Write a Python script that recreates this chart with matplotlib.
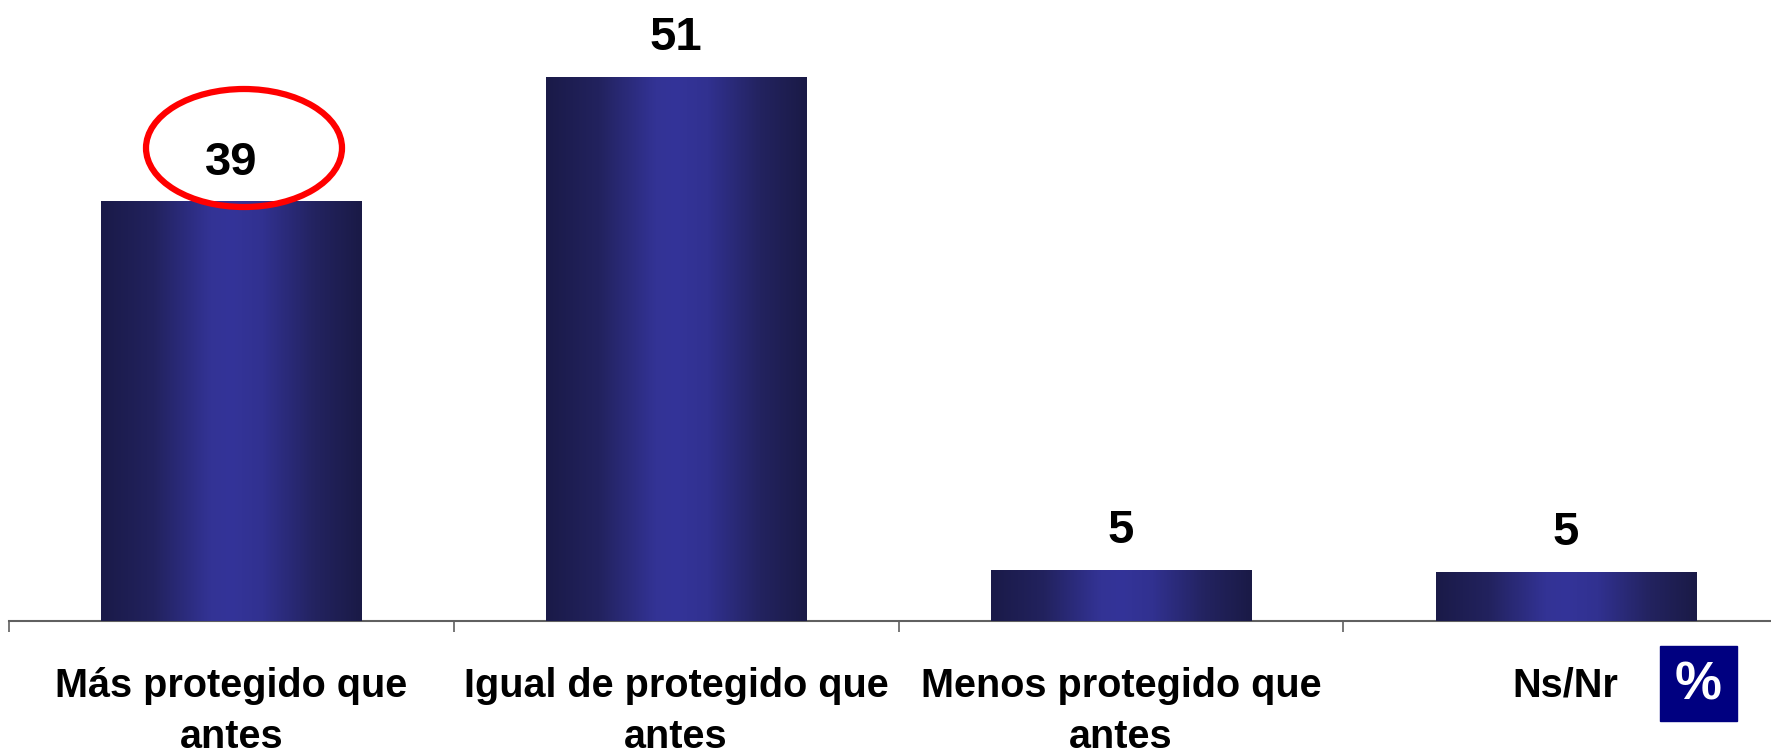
import numpy as np
import matplotlib.pyplot as plt
from matplotlib.patches import Ellipse, Rectangle
from matplotlib.colors import LinearSegmentedColormap

plt.rcParams['font.family'] = ['Liberation Sans', 'DejaVu Sans']

# datos
categorias = ['Más protegido que\nantes', 'Igual de protegido que\nantes',
              'Menos protegido que\nantes', 'Ns/Nr']
valores = [39.2, 50.8, 4.8, 4.6]
etiquetas = ['39', '51', '5', '5']

fig = plt.figure(figsize=(17.71, 7.52), dpi=100)
ax = fig.add_axes([9 / 1771, 131 / 752, 1779 / 1771, 621 / 752])

x = np.arange(len(categorias))
barras = ax.bar(x, valores, width=0.585, color='#28286e', zorder=2)

# degradado horizontal en cada barra
cmap = LinearSegmentedColormap.from_list(
    'barra', [(0, '#1a1a48'), (0.2, '#22225e'), (0.42, '#333395'),
              (0.5, '#343499'), (0.62, '#313190'), (0.82, '#232360'), (1, '#1a1a46')])
grad = np.linspace(0, 1, 256).reshape(1, -1)
for b in barras:
    x0, y0 = b.get_x(), b.get_y()
    w, h = b.get_width(), b.get_height()
    im = ax.imshow(grad, cmap=cmap, aspect='auto', extent=[x0, x0 + w, y0, y0 + h], zorder=3)
    im.set_clip_path(b)

for xi, v, t in zip(x, valores, etiquetas):
    ax.annotate(t, (xi, v), xytext=(0, 12), textcoords='offset points',
                ha='center', va='bottom', fontsize=34, fontweight='bold')

ax.set_xlim(-0.5, 3.5)
ax.set_ylim(0, 58)

# ejes
for s in ['top', 'right', 'left']:
    ax.spines[s].set_visible(False)
ax.spines['bottom'].set_color('#606060')
ax.spines['bottom'].set_linewidth(1.5)
ax.set_yticks([])
ax.set_xticks(np.arange(-0.5, 3.5, 1.0))
ax.set_xticklabels([])
ax.tick_params(axis='x', which='major', direction='out', length=8, color='#606060', width=1.2)
ax.set_xticks(x, minor=True)
ax.set_xticklabels(categorias, minor=True, fontsize=28.5, fontweight='bold', va='top', linespacing=1.45)
ax.tick_params(axis='x', which='minor', length=0, pad=33)

# elipse roja
fig.patches.append(Ellipse((244 / 1771, 1 - 148 / 752), 196 / 1771, 118 / 752,
                           transform=fig.transFigure, fill=False, edgecolor='#ff0000',
                           linewidth=4.5, zorder=10))

# caja de %
fig.patches.append(Rectangle((1660 / 1771, 1 - 721 / 752), 77 / 1771, 75 / 752,
                             transform=fig.transFigure, color='#000080', zorder=10))
fig.text(1698 / 1771, 1 - 685 / 752, '%', color='white', fontsize=38, fontweight='bold',
         ha='center', va='center', zorder=11)

plt.savefig('out.png', dpi=100)
